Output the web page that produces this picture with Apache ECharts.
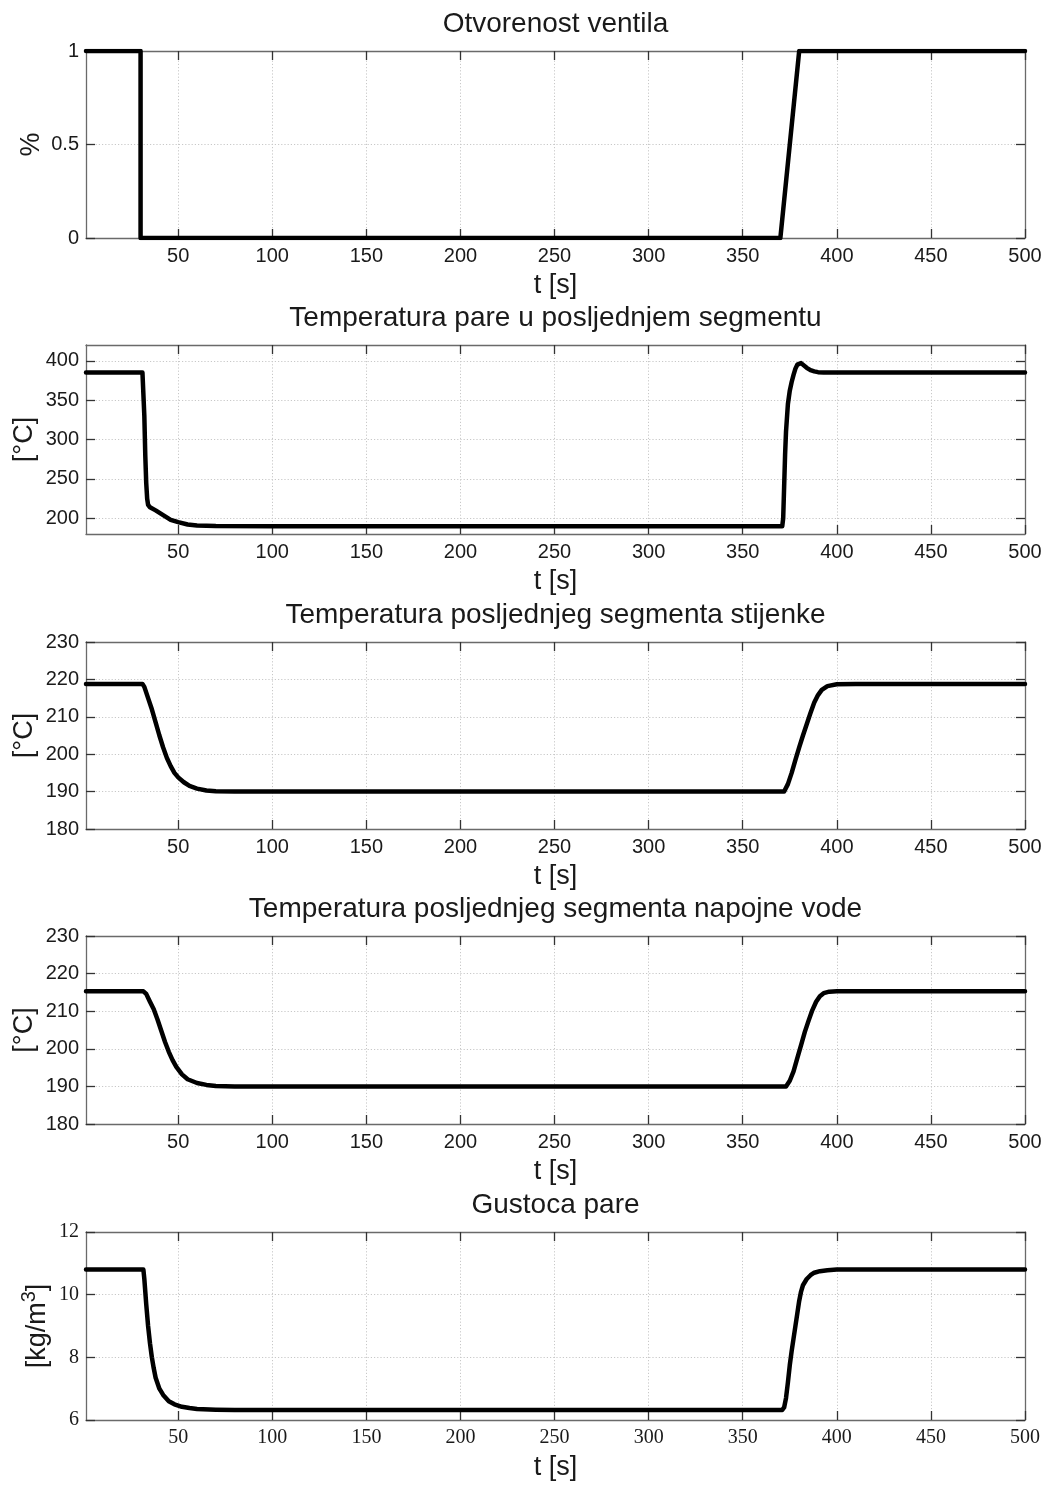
<!DOCTYPE html>
<html>
<head>
<meta charset="utf-8">
<script src="https://cdn.jsdelivr.net/npm/echarts@6/dist/echarts.min.js"></script>
<style>
html,body{margin:0;padding:0;background:#fff;}
#chart{width:1048px;height:1485px;}
</style>
</head>
<body>
<div id="chart"></div>
<script>
// ---- Data ----
const titles = [
  'Otvorenost ventila',
  'Temperatura pare u posljednjem segmentu',
  'Temperatura posljednjeg segmenta stijenke',
  'Temperatura posljednjeg segmenta napojne vode',
  'Gustoca pare'
];
const yNames = ['%', '[°C]', '[°C]', '[°C]', '[kg/m{sup|3}]'];
const xName = 't [s]';
const xTicks = [50, 100, 150, 200, 250, 300, 350, 400, 450, 500];
const yTicks1 = [0, 0.5, 1];
const yTicks2 = [200, 250, 300, 350, 400];
const yTicks3 = [180, 190, 200, 210, 220, 230];
const yTicks4 = [180, 190, 200, 210, 220, 230];
const yTicks5 = [6, 8, 10, 12];

const valveT = [1, 30, 30, 370, 380, 500];
const valveV = [1, 1, 0, 0, 1, 1];

const steamT = [1, 31, 31.5, 32, 32.5, 33, 33.5, 34, 35, 38, 42, 46, 50, 55, 60, 70, 100, 371,
  371.5, 372, 372.5, 373, 374, 375, 376, 377, 378, 379, 380, 381, 382, 384, 386, 388, 390, 393, 500];
const steamV = [385, 385, 383, 330, 280, 245, 225, 217, 214, 210, 204, 198, 195, 192, 190.8, 190.1, 190, 190,
  200, 240, 280, 310, 345, 362, 373, 382, 390, 395, 397.5, 397, 395, 391, 388, 386.5, 385.5, 385, 385];

const wallT = [1, 31, 32, 34, 36, 38, 40, 42, 44, 46, 48, 50, 53, 56, 60, 65, 70, 80, 372,
  374, 376, 378, 380, 382, 384, 386, 388, 390, 392, 395, 400, 410, 500];
const wallV = [218.8, 218.8, 218, 215, 212, 208.5, 205, 201.8, 199, 196.8, 195, 193.8, 192.5, 191.5, 190.8, 190.3, 190.1, 190, 190,
  192, 195, 198.5, 201.8, 205, 208, 211, 213.8, 215.8, 217.2, 218.2, 218.7, 218.8, 218.8];

const waterT = [1, 31.5, 33, 35, 37, 39, 41, 43, 45, 47, 49, 52, 55, 60, 65, 70, 80, 373,
  375, 377, 379, 381, 383, 385, 387, 389, 391, 393, 396, 400, 500];
const waterV = [215.3, 215.3, 214.6, 212.5, 210.5, 207.8, 204.8, 201.8, 199.2, 197, 195.2, 193.2, 191.9, 190.9, 190.4, 190.1, 190, 190,
  191.5, 194, 197.5, 201, 204.5, 207.5, 210.3, 212.5, 214, 214.8, 215.2, 215.3, 215.3];

const densT = [1, 31.5, 32, 32.5, 33, 34, 35, 36, 37, 38, 40, 42, 45, 48, 52, 56, 60, 70, 80, 371,
  372, 373, 374, 375, 376, 377, 378, 379, 380, 381, 382, 384, 386, 388, 391, 395, 400, 500];
const densV = [10.8, 10.8, 10.5, 10.1, 9.7, 9.0, 8.45, 8.0, 7.65, 7.35, 7.0, 6.8, 6.6, 6.5, 6.42, 6.38, 6.35, 6.33, 6.32, 6.32,
  6.4, 6.7, 7.2, 7.75, 8.2, 8.6, 9.0, 9.4, 9.8, 10.1, 10.3, 10.5, 10.62, 10.7, 10.75, 10.78, 10.8, 10.8];

// ---- Layout / style ----
const X_MIN = 1, X_MAX = 500;
const panels = [
  {t: valveT, v: valveV, yMin: 0, yMax: 1, yTicks: yTicks1, top: 51, h: 187, nameGap: 41, serif: false},
  {t: steamT, v: steamV, yMin: 180, yMax: 420, yTicks: yTicks2, top: 345, h: 189, nameGap: 48, serif: false},
  {t: wallT, v: wallV, yMin: 180, yMax: 230, yTicks: yTicks3, top: 642, h: 187, nameGap: 48, serif: false},
  {t: waterT, v: waterV, yMin: 180, yMax: 230, yTicks: yTicks4, top: 936, h: 188, nameGap: 48, serif: false},
  {t: densT, v: densV, yMin: 6, yMax: 12, yTicks: yTicks5, top: 1232, h: 188, nameGap: 29, serif: true}
];
const LEFT = 86, RIGHT_EDGE = 1025;
const SANS = 'Liberation Sans, Arial, sans-serif';
const SERIF = 'Liberation Serif, Times New Roman, serif';
const BOX = '#6a6a6a';
const TXT = '#1a1a1a';

const grid = [], xAxis = [], yAxis = [], series = [], graphic = [];
panels.forEach((p, i) => {
  grid.push({left: LEFT, width: RIGHT_EDGE - LEFT, top: p.top, height: p.h, containLabel: false});
  const tickFont = p.serif ? SERIF : SANS;
  const tickSize = 20;
  // bottom x axis
  xAxis.push({
    type: 'value', gridIndex: i, min: X_MIN, max: X_MAX, position: 'bottom',
    name: xName, nameLocation: 'middle', nameGap: 34, nameMoveOverlap: false,
    nameTextStyle: {fontFamily: SANS, fontSize: 27, color: TXT},
    axisLine: {show: true, onZero: false, lineStyle: {color: BOX, width: 1.3}},
    axisTick: {show: true, inside: true, length: 9, customValues: xTicks, lineStyle: {color: '#333', width: 1.3}},
    axisLabel: {show: true, customValues: xTicks, margin: 8, fontFamily: tickFont, fontSize: tickSize, color: TXT},
    splitLine: {show: true, lineStyle: {color: '#c8c8c8', type: [1.2, 2], width: 1}}
  });
  // top x axis (box)
  xAxis.push({
    type: 'value', gridIndex: i, min: X_MIN, max: X_MAX, position: 'top',
    axisLine: {show: true, onZero: false, lineStyle: {color: BOX, width: 1.3}},
    axisTick: {show: true, inside: true, length: 9, customValues: xTicks, lineStyle: {color: '#333', width: 1.3}},
    axisLabel: {show: false}, splitLine: {show: false}
  });
  // left y axis
  yAxis.push({
    type: 'value', gridIndex: i, min: p.yMin, max: p.yMax, position: 'left',
    name: yNames[i], nameLocation: 'middle', nameGap: p.nameGap, nameMoveOverlap: false,
    nameTextStyle: {fontFamily: SANS, fontSize: 27, color: TXT,
      rich: {sup: {fontFamily: SANS, fontSize: 20, color: TXT, verticalAlign: 'top', padding: [0, 0, 18, 0]}}},
    axisLine: {show: true, onZero: false, lineStyle: {color: BOX, width: 1.3}},
    axisTick: {show: true, inside: true, length: 9, customValues: p.yTicks, lineStyle: {color: '#333', width: 1.3}},
    axisLabel: {show: true, customValues: p.yTicks, margin: 7, fontFamily: tickFont, fontSize: tickSize, color: TXT},
    splitLine: {show: true, lineStyle: {color: '#c8c8c8', type: [1.2, 2], width: 1}}
  });
  // right y axis (box)
  yAxis.push({
    type: 'value', gridIndex: i, min: p.yMin, max: p.yMax, position: 'right',
    axisLine: {show: true, onZero: false, lineStyle: {color: BOX, width: 1.3}},
    axisTick: {show: true, inside: true, length: 9, customValues: p.yTicks, lineStyle: {color: '#333', width: 1.3}},
    axisLabel: {show: false}, splitLine: {show: false}
  });
  series.push({
    type: 'line', xAxisIndex: 2 * i, yAxisIndex: 2 * i,
    data: p.t.map((t, k) => [t, p.v[k]]),
    showSymbol: false, symbol: 'none', smooth: false, clip: true,
    lineStyle: {color: '#000', width: 4.5, join: 'round', cap: 'round'},
    animation: false
  });
  graphic.push({
    type: 'text', x: (LEFT + RIGHT_EDGE) / 2, y: p.top - 27,
    style: {text: titles[i], fontFamily: SANS, fontSize: 28, fill: TXT, align: 'center', verticalAlign: 'middle'}
  });
});

const chart = echarts.init(document.getElementById('chart'), null, {renderer: 'canvas'});
chart.setOption({
  backgroundColor: '#fff',
  animation: false,
  grid, xAxis, yAxis, series, graphic
});
</script>
</body>
</html>
